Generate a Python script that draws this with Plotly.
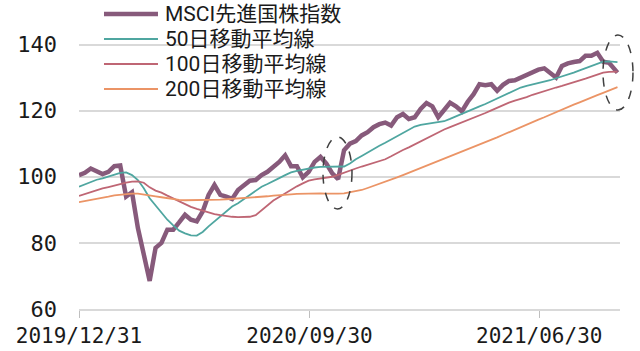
import pandas as pd
import plotly.graph_objects as go

# weekly observation dates (Tuesday) plus the last data day
dates = list(pd.date_range("2019-12-31", periods=92, freq="7D").strftime("%Y-%m-%d")) + ["2021-10-01"]

msci = [100.5, 101.2, 102.5, 101.5, 100.8, 101.5, 103.2, 103.4, 94.0, 95.3,
        84.5, 76.5, 68.5, 78.5, 80.0, 84.0, 84.0, 86.2, 88.5, 87.0,
        86.5, 89.5, 94.5, 97.5, 94.5, 94.0, 93.3, 96.0, 97.2, 98.8,
        99.0, 100.5, 101.5, 102.8, 104.5, 106.5, 103.2, 103.2, 99.8, 101.5,
        104.5, 106.0, 104.0, 101.0, 99.3, 108.0, 110.0, 110.8, 112.5, 113.5,
        115.0, 115.9, 116.4, 115.5, 118.0, 119.0, 117.5, 118.0, 120.5, 122.3,
        121.3, 118.0, 120.0, 122.4, 121.3, 119.8, 122.7, 125.0, 128.0, 127.7,
        128.0, 126.0, 127.8, 129.0, 129.2, 130.0, 131.0, 131.8, 132.4, 132.8,
        131.6, 130.0, 133.5, 134.3, 134.7, 135.0, 136.6, 136.6, 137.5, 134.8,
        134.5, 132.5, 131.5]

ma50 = [97.0, 97.7, 98.5, 99.1, 99.5, 100.0, 100.6, 101.2, 101.3, 100.5,
        99.0, 96.5, 93.5, 91.3, 89.0, 87.0, 85.3, 83.7, 82.9, 82.3,
        82.2, 83.3, 85.0, 86.5, 88.0, 89.5, 91.0, 92.0, 93.2, 94.5,
        95.8, 97.0, 97.8, 98.8, 99.6, 100.5, 101.3, 101.8, 102.2, 102.6,
        102.8, 103.0, 103.0, 103.0, 103.0, 103.1, 104.0, 105.3, 106.3, 107.4,
        108.4, 109.4, 110.3, 111.3, 112.2, 113.3, 114.4, 115.2, 115.7, 116.0,
        116.3, 116.5, 116.8, 117.5, 118.3, 119.0, 119.8, 120.5, 121.3, 122.0,
        122.8, 123.6, 124.5, 125.4, 126.2, 127.0, 127.5, 127.9, 128.3, 128.6,
        129.2, 129.8, 130.3, 130.9, 131.5, 132.2, 132.9, 133.6, 134.3, 134.8,
        134.9, 134.8, 134.7]

ma100 = [94.2, 94.8, 95.4, 96.0, 96.5, 96.9, 97.4, 97.8, 98.2, 98.5,
         98.6, 98.2, 96.8, 95.8, 95.2, 94.3, 93.4, 92.5, 91.6, 90.9,
         90.3, 89.7, 89.1, 88.7, 88.4, 88.1, 87.9, 87.8, 87.8, 87.9,
         88.4, 89.8, 91.3, 92.8, 93.9, 95.0, 96.1, 97.1, 98.0, 98.8,
         99.2, 99.5, 99.7, 100.0, 100.6, 101.3, 102.0, 102.5, 103.1, 103.6,
         104.1, 104.7, 105.3, 106.2, 107.2, 108.1, 108.9, 109.8, 110.7, 111.6,
         112.6, 113.5, 114.3, 115.0, 115.7, 116.4, 117.1, 117.7, 118.5, 119.3,
         120.1, 120.9, 121.6, 122.4, 123.0, 123.5, 124.1, 124.8, 125.4, 125.9,
         126.4, 127.0, 127.5, 128.0, 128.6, 129.1, 129.7, 130.3, 130.9, 131.5,
         131.7, 131.8, 131.8]

ma200 = [92.3, 92.6, 92.9, 93.3, 93.7, 94.0, 94.4, 94.6, 94.8, 94.9,
         94.9, 94.7, 94.4, 94.1, 93.8, 93.5, 93.2, 93.0, 92.9, 92.9,
         92.9, 93.0, 93.0, 93.0, 93.1, 93.2, 93.3, 93.4, 93.5, 93.6,
         93.8, 94.0, 94.1, 94.3, 94.5, 94.6, 94.7, 94.8, 94.9, 95.0,
         95.0, 95.0, 94.9, 94.8, 94.9, 95.0, 95.3, 95.6, 96.0, 96.6,
         97.2, 97.8, 98.4, 99.1, 99.8, 100.5, 101.2, 101.9, 102.6, 103.3,
         104.0, 104.7, 105.5, 106.2, 106.9, 107.6, 108.3, 109.0, 109.7, 110.4,
         111.1, 111.9, 112.7, 113.5, 114.3, 115.1, 115.8, 116.5, 117.3, 118.0,
         118.8, 119.6, 120.3, 121.1, 121.8, 122.5, 123.3, 124.0, 124.7, 125.4,
         126.0, 126.7, 127.1]

series_names = ["MSCI先進国株指数", "50日移動平均線", "100日移動平均線", "200日移動平均線"]
x_tickvals = ["2019-12-31", "2020-09-30", "2021-06-30"]
x_ticktext = ["2019/12/31", "2020/09/30", "2021/06/30"]
y_tickvals = [60, 80, 100, 120, 140]

FONT = "Noto Sans CJK JP"
LEGFONT = "Roboto, 'Noto Sans CJK JP'"
TICKFONT = "DejaVu Sans Mono"
colors = ["#875A7B", "#4FA6A0", "#BF6674", "#EB9466"]
widths = [4.5, 1.8, 1.8, 1.8]

fig = go.Figure()
for name, vals, col, w in zip(series_names, [msci, ma50, ma100, ma200], colors, widths):
    fig.add_trace(go.Scatter(x=dates, y=vals, name=name, mode="lines",
                             line=dict(color=col, width=w), showlegend=False))

# legend drawn as line samples + text (rows 25 px apart, above plot top)
leg_rows = [1.0498, 0.9608, 0.8718, 0.7829]
for name, col, w, yy in zip(series_names, colors, widths, leg_rows):
    fig.add_shape(type="line", xref="paper", yref="paper", x0=0.0462, x1=0.146, y0=yy, y1=yy,
                  line=dict(color=col, width=max(w, 2.2)), layer="above")
    fig.add_annotation(xref="paper", yref="paper", x=0.1553, y=yy, text=name, showarrow=False,
                       xanchor="left", yanchor="middle",
                       font=dict(family=LEGFONT, size=21, color="#1a1a1a"))

# dashed ellipses highlighting the two dips
for x0, x1, y0, y1 in [(0.451, 0.5046, 0.356, 0.612), (0.9686, 1.024, 0.708, 0.975)]:
    fig.add_shape(type="circle", xref="paper", yref="paper", x0=x0, x1=x1, y0=y0, y1=y1,
                  line=dict(color="#404040", width=1.5, dash="dash"), layer="above")

fig.update_layout(
    width=640, height=351,
    margin=dict(l=79, r=20, t=28, b=42, autoexpand=False),
    paper_bgcolor="white", plot_bgcolor="white",
    font=dict(family=FONT, size=20, color="#1a1a1a"),
    showlegend=False,
    xaxis=dict(type="date", range=["2019-12-31", "2021-10-04"],
               tickvals=x_tickvals, ticktext=x_ticktext,
               showgrid=False, zeroline=False, automargin=False,
               showline=True, linecolor="#D9D9D9", linewidth=2,
               ticks="outside", ticklen=7, tickwidth=1, tickcolor="#BFBFBF",
               ticklabelstandoff=0,
               tickfont=dict(family=TICKFONT, size=21, color="#1a1a1a")),
    yaxis=dict(range=[60, 145], tickvals=y_tickvals,
               showgrid=True, gridcolor="#D9D9D9", gridwidth=2,
               zeroline=False, showline=False, ticks="", automargin=False,
               ticklabelstandoff=21,
               tickfont=dict(family=TICKFONT, size=22, color="#1a1a1a")),
)

fig.write_html("out.html")
